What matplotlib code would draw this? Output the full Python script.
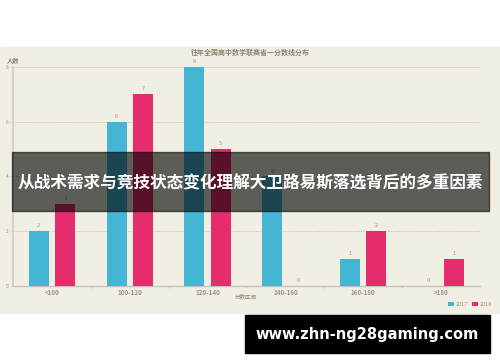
import matplotlib.pyplot as plt
import numpy as np
from matplotlib.patches import Rectangle

plt.rcParams['font.family'] = ['Noto Sans CJK SC', 'DejaVu Sans']

# Data
categories = ["<100", "100-120", "120-140", "140-160", "160-180", ">180"]
counts_2017 = [2, 6, 8, 4, 1, 0]
counts_2018 = [3, 7, 5, 0, 2, 1]
series_names = ["2017", "2018"]
title = "往年全国高中数学联赛省一分数线分布"
banner = "从战术需求与竞技状态变化理解大卫路易斯落选背后的多重因素"
watermark = "www.zhn-ng28gaming.com"

blue = "#45b5d4"
pink = "#e52d6e"
beige = "#f1efe4"
grey = "#9a9484"

fig = plt.figure(figsize=(5, 3.62), dpi=100)
fig.patch.set_facecolor("white")
W, H = 500, 362

def fx(px):
    return px / W

def fy(py):
    return 1 - py / H

# beige chart panel
fig.patches.append(Rectangle((0, fy(313)), 1, fy(47) - fy(313),
                             transform=fig.transFigure, color=beige, zorder=-5))

ax = fig.add_axes([fx(13), fy(286), fx(480) - fx(13), fy(66.7) - fy(286)])
ax.set_facecolor("none")
ax.set_zorder(1)

x = np.arange(len(categories))
bw = 0.257
off = 0.17
b1 = ax.bar(x - off, counts_2017, bw, color=blue, label=series_names[0], zorder=3)
b2 = ax.bar(x + off, counts_2018, bw, color=pink, label=series_names[1], zorder=3)
for bars in (b1, b2):
    for r in bars:
        h = r.get_height()
        ax.text(r.get_x() + r.get_width() / 2, h + 0.1, f"{int(h)}",
                ha="center", va="bottom", fontsize=4, color=grey, clip_on=False)

ax.set_xlim(-0.5, len(categories) - 0.5)
ax.set_ylim(0, 8)
ax.set_yticks([0, 2, 4, 6, 8])
ax.set_yticklabels(["0", "2", "4", "6", "8"], fontsize=3.5, color=grey)
ax.set_xticks(x)
ax.set_xticklabels(categories, fontsize=4.5, color=grey, fontweight="bold")
ax.tick_params(axis="x", length=0, pad=2)
ax.tick_params(axis="y", length=2, width=0.5, color="#cfcabb", pad=1)
ax.set_xticks(np.arange(0.5, len(categories) - 1, 1), minor=True)
ax.tick_params(axis="x", which="minor", length=1.2, width=0.6, color="#bdb8a8")
for yv in [2, 4, 6, 8]:
    ax.axhline(yv, color="#c4bfb0", lw=0.6, ls=(0, (1.5, 1.5)), zorder=1)
for s in ["top", "right"]:
    ax.spines[s].set_visible(False)
ax.spines["left"].set_color("#d6d2c5")
ax.spines["left"].set_linewidth(1.5)
ax.spines["bottom"].set_color("#c8c3b4")
ax.spines["bottom"].set_linewidth(1.0)

fig.text(fx(250), fy(52), title, ha="center", va="center", fontsize=5,
         color="#8a8373", fontweight="bold")
fig.text(fx(7), fy(60), "人数", ha="left", va="center", fontsize=4.5,
         color="#8a8373", fontweight="bold")
fig.text(fx(246), fy(296.5), "分数区间", ha="center", va="center", fontsize=4,
         color="#8a8373")

# legend
ax.legend(loc="lower right", bbox_to_anchor=(fx(497), fy(312)),
          bbox_transform=fig.transFigure, ncol=2, fontsize=4, frameon=False,
          handlelength=1.0, handleheight=0.8, handletextpad=0.3, columnspacing=0.8,
          labelcolor=grey)

# dark banner with headline
fig.patches.append(Rectangle((fx(12), fy(211)), fx(489) - fx(12), fy(152) - fy(211),
                             transform=fig.transFigure, color="black", alpha=0.61,
                             zorder=10))
fig.text(fx(250), fy(183), banner, ha="center", va="center", fontsize=12.0,
         color="white", fontweight="bold", zorder=11)

# watermark box
fig.patches.append(Rectangle((fx(245), fy(352.7)), fx(490) - fx(245), fy(314.7) - fy(352.7),
                             transform=fig.transFigure, color="black", zorder=10))
fig.text(fx(367.5), fy(334), watermark, ha="center", va="center", fontsize=10.5,
         color="white", fontweight="bold", family="DejaVu Sans", zorder=11)

fig.savefig("out.png", dpi=100)
